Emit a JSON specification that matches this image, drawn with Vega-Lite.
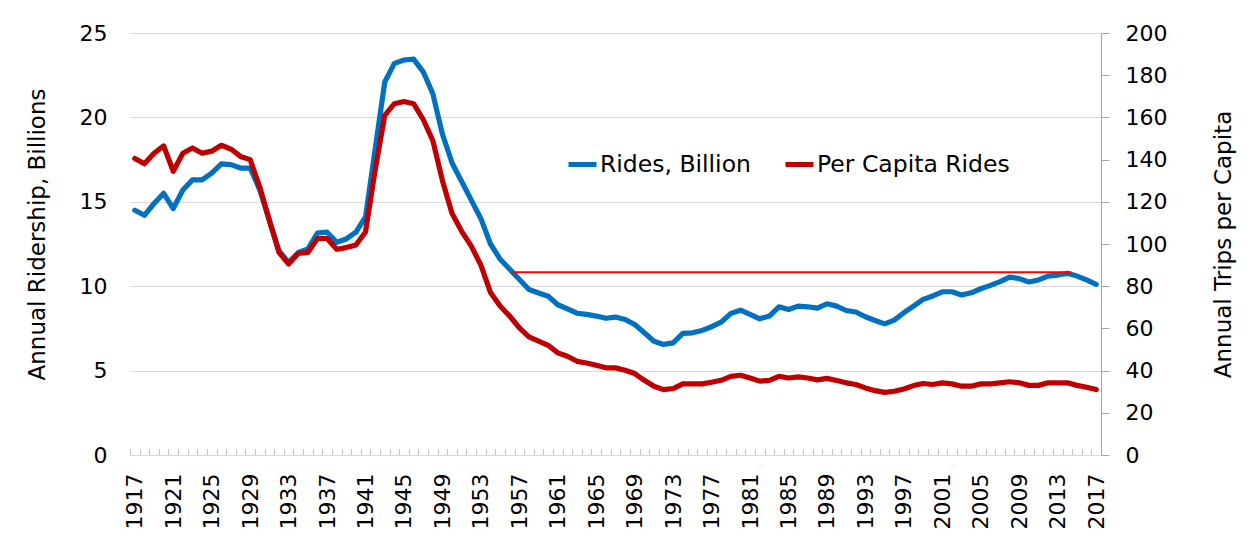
{
  "$schema": "https://vega.github.io/schema/vega-lite/v6.json",
  "width": 971,
  "height": 422,
  "autosize": {"type": "none"},
  "padding": {"left": 130, "top": 33, "right": 148, "bottom": 89},
  "background": "white",
  "config": {
    "view": {"stroke": null},
    "font": "DejaVu Sans",
    "axis": {"labelFont": "DejaVu Sans", "titleFont": "DejaVu Sans", "labelColor": "#000000", "titleColor": "#000000", "titleFontWeight": "normal"},
    "legend": {"labelFont": "DejaVu Sans", "labelColor": "#000000"}
  },
  "datasets": {
    "ridership": [
      {"year":1917,"rides":14.5,"percap":140.5},{"year":1918,"rides":14.2,"percap":138},{"year":1919,"rides":14.9,"percap":143},{"year":1920,"rides":15.5,"percap":146.5},{"year":1921,"rides":14.6,"percap":134.5},{"year":1922,"rides":15.7,"percap":143},{"year":1923,"rides":16.3,"percap":145.5},{"year":1924,"rides":16.3,"percap":143},{"year":1925,"rides":16.7,"percap":144},{"year":1926,"rides":17.25,"percap":146.8},{"year":1927,"rides":17.2,"percap":145},{"year":1928,"rides":17.0,"percap":141.5},{"year":1929,"rides":17.0,"percap":140},{"year":1930,"rides":15.7,"percap":127},{"year":1931,"rides":13.9,"percap":111},{"year":1932,"rides":12.1,"percap":96},{"year":1933,"rides":11.4,"percap":90.5},{"year":1934,"rides":12.0,"percap":95.5},{"year":1935,"rides":12.2,"percap":96},{"year":1936,"rides":13.15,"percap":102.6},{"year":1937,"rides":13.2,"percap":102.6},{"year":1938,"rides":12.6,"percap":97.5},{"year":1939,"rides":12.8,"percap":98.3},{"year":1940,"rides":13.2,"percap":99.5},{"year":1941,"rides":14.1,"percap":105.7},{"year":1942,"rides":18.1,"percap":135},{"year":1943,"rides":22.1,"percap":161},{"year":1944,"rides":23.2,"percap":166.5},{"year":1945,"rides":23.4,"percap":167.5},{"year":1946,"rides":23.45,"percap":166.5},{"year":1947,"rides":22.7,"percap":159},{"year":1948,"rides":21.4,"percap":149},{"year":1949,"rides":19.0,"percap":130},{"year":1950,"rides":17.3,"percap":114.5},{"year":1951,"rides":16.2,"percap":106},{"year":1952,"rides":15.1,"percap":99},{"year":1953,"rides":14.0,"percap":90},{"year":1954,"rides":12.5,"percap":77},{"year":1955,"rides":11.6,"percap":70.6},{"year":1956,"rides":11.0,"percap":65.8},{"year":1957,"rides":10.4,"percap":60.3},{"year":1958,"rides":9.8,"percap":56},{"year":1959,"rides":9.6,"percap":54},{"year":1960,"rides":9.4,"percap":52},{"year":1961,"rides":8.9,"percap":48.4},{"year":1962,"rides":8.66,"percap":46.8},{"year":1963,"rides":8.4,"percap":44.4},{"year":1964,"rides":8.33,"percap":43.6},{"year":1965,"rides":8.23,"percap":42.5},{"year":1966,"rides":8.1,"percap":41.3},{"year":1967,"rides":8.17,"percap":41.3},{"year":1968,"rides":8.03,"percap":40.2},{"year":1969,"rides":7.73,"percap":38.6},{"year":1970,"rides":7.24,"percap":35.4},{"year":1971,"rides":6.74,"percap":32.6},{"year":1972,"rides":6.55,"percap":31},{"year":1973,"rides":6.64,"percap":31.5},{"year":1974,"rides":7.2,"percap":33.7},{"year":1975,"rides":7.24,"percap":33.7},{"year":1976,"rides":7.38,"percap":33.7},{"year":1977,"rides":7.6,"percap":34.5},{"year":1978,"rides":7.87,"percap":35.4},{"year":1979,"rides":8.39,"percap":37.3},{"year":1980,"rides":8.58,"percap":37.8},{"year":1981,"rides":8.33,"percap":36.5},{"year":1982,"rides":8.07,"percap":35},{"year":1983,"rides":8.23,"percap":35.4},{"year":1984,"rides":8.78,"percap":37.3},{"year":1985,"rides":8.62,"percap":36.5},{"year":1986,"rides":8.82,"percap":37},{"year":1987,"rides":8.78,"percap":36.5},{"year":1988,"rides":8.7,"percap":35.6},{"year":1989,"rides":8.96,"percap":36.3},{"year":1990,"rides":8.82,"percap":35.3},{"year":1991,"rides":8.56,"percap":34.2},{"year":1992,"rides":8.47,"percap":33.4},{"year":1993,"rides":8.19,"percap":31.8},{"year":1994,"rides":7.97,"percap":30.5},{"year":1995,"rides":7.77,"percap":29.7},{"year":1996,"rides":7.99,"percap":30.2},{"year":1997,"rides":8.43,"percap":31.3},{"year":1998,"rides":8.82,"percap":32.9},{"year":1999,"rides":9.22,"percap":33.9},{"year":2000,"rides":9.42,"percap":33.4},{"year":2001,"rides":9.67,"percap":34.2},{"year":2002,"rides":9.67,"percap":33.7},{"year":2003,"rides":9.48,"percap":32.6},{"year":2004,"rides":9.61,"percap":32.6},{"year":2005,"rides":9.85,"percap":33.7},{"year":2006,"rides":10.05,"percap":33.7},{"year":2007,"rides":10.27,"percap":34.2},{"year":2008,"rides":10.54,"percap":34.7},{"year":2009,"rides":10.45,"percap":34.2},{"year":2010,"rides":10.25,"percap":33},{"year":2011,"rides":10.37,"percap":33},{"year":2012,"rides":10.6,"percap":34.2},{"year":2013,"rides":10.66,"percap":34.2},{"year":2014,"rides":10.76,"percap":34.2},{"year":2015,"rides":10.6,"percap":33},{"year":2016,"rides":10.37,"percap":32.1},{"year":2017,"rides":10.11,"percap":31}
    ],
    "refline": [{"year": 1956.3, "year2": 2014.4, "rides": 10.83}]
  },
  "encoding": {
    "x": {
      "field": "year",
      "type": "quantitative",
      "scale": {"domain": [1916.5, 2017.5], "nice": false, "zero": false},
      "axis": {
        "title": null,
        "grid": false,
        "values": [1916.5,1917.5,1918.5,1919.5,1920.5,1921.5,1922.5,1923.5,1924.5,1925.5,1926.5,1927.5,1928.5,1929.5,1930.5,1931.5,1932.5,1933.5,1934.5,1935.5,1936.5,1937.5,1938.5,1939.5,1940.5,1941.5,1942.5,1943.5,1944.5,1945.5,1946.5,1947.5,1948.5,1949.5,1950.5,1951.5,1952.5,1953.5,1954.5,1955.5,1956.5,1957.5,1958.5,1959.5,1960.5,1961.5,1962.5,1963.5,1964.5,1965.5,1966.5,1967.5,1968.5,1969.5,1970.5,1971.5,1972.5,1973.5,1974.5,1975.5,1976.5,1977.5,1978.5,1979.5,1980.5,1981.5,1982.5,1983.5,1984.5,1985.5,1986.5,1987.5,1988.5,1989.5,1990.5,1991.5,1992.5,1993.5,1994.5,1995.5,1996.5,1997.5,1998.5,1999.5,2000.5,2001.5,2002.5,2003.5,2004.5,2005.5,2006.5,2007.5,2008.5,2009.5,2010.5,2011.5,2012.5,2013.5,2014.5,2015.5,2016.5,2017.5],
        "labelExpr": "((datum.value + 0.5 - 1917) % 4 == 0) ? format(datum.value + 0.5, 'd') : ''",
        "labelOffset": 4.8,
        "labelAngle": -90,
        "labelAlign": "right",
        "labelBaseline": "middle",
        "labelFontSize": 22,
        "labelPadding": 24,
        "labelOverlap": false,
        "labelFlush": false,
        "labelBound": false,
        "tickSize": -6,
        "tickColor": "#bfbfbf",
        "domainColor": "#d9d9d9"
      }
    }
  },
  "layer": [
    {
      "layer": [
        {
          "data": {"name": "ridership"},
          "mark": {"type": "line", "strokeWidth": 5.2, "strokeJoin": "round", "strokeCap": "round"},
          "encoding": {
            "y": {
              "field": "rides",
              "type": "quantitative",
              "scale": {"domain": [0, 25], "nice": false},
              "axis": {
                "orient": "left",
                "values": [0, 5, 10, 15, 20, 25],
                "domain": false,
                "ticks": false,
                "grid": true,
                "gridColor": "#d9d9d9",
                "labelPadding": 23,
                "labelFontSize": 22,
                "title": "Annual Ridership, Billions",
                "titleFontSize": 23,
                "titleX": -93,
                "titleY": 201,
                "titleAngle": -90,
                "titleBaseline": "middle",
                "titleAlign": "center"
              }
            },
            "color": {
              "datum": "Rides, Billion",
              "type": "nominal",
              "scale": {"domain": ["Rides, Billion", "Per Capita Rides"], "range": ["#0070c0", "#c00000"]},
              "legend": {
                "title": null,
                "orient": "none",
                "legendX": 436,
                "legendY": 115,
                "direction": "horizontal",
                "symbolType": "stroke",
                "symbolSize": 784,
                "symbolStrokeWidth": 5,
                "labelFontSize": 23.5,
                "labelLimit": 400,
                "labelOffset": 1,
                "columnPadding": 24
              }
            }
          }
        },
        {
          "data": {"name": "refline"},
          "mark": {"type": "rule", "color": "#ff0000", "strokeWidth": 2},
          "encoding": {
            "x2": {"field": "year2"},
            "y": {"field": "rides", "type": "quantitative"}
          }
        }
      ]
    },
    {
      "data": {"name": "ridership"},
      "mark": {"type": "line", "strokeWidth": 5.2, "strokeJoin": "round", "strokeCap": "round"},
      "encoding": {
        "y": {
          "field": "percap",
          "type": "quantitative",
          "scale": {"domain": [0, 200], "nice": false},
          "axis": {
            "orient": "right",
            "values": [0, 20, 40, 60, 80, 100, 120, 140, 160, 180, 200],
            "grid": false,
            "domainColor": "#a6a6a6",
            "tickColor": "#a6a6a6",
            "tickSize": 8,
            "labelPadding": 16,
            "labelFontSize": 22,
            "title": "Annual Trips per Capita",
            "titleFontSize": 23,
            "titleX": 122,
            "titleY": 211,
            "titleAngle": -90,
            "titleBaseline": "middle",
            "titleAlign": "center"
          }
        },
        "color": {"datum": "Per Capita Rides", "type": "nominal"}
      }
    }
  ],
  "resolve": {"scale": {"y": "independent"}}
}
